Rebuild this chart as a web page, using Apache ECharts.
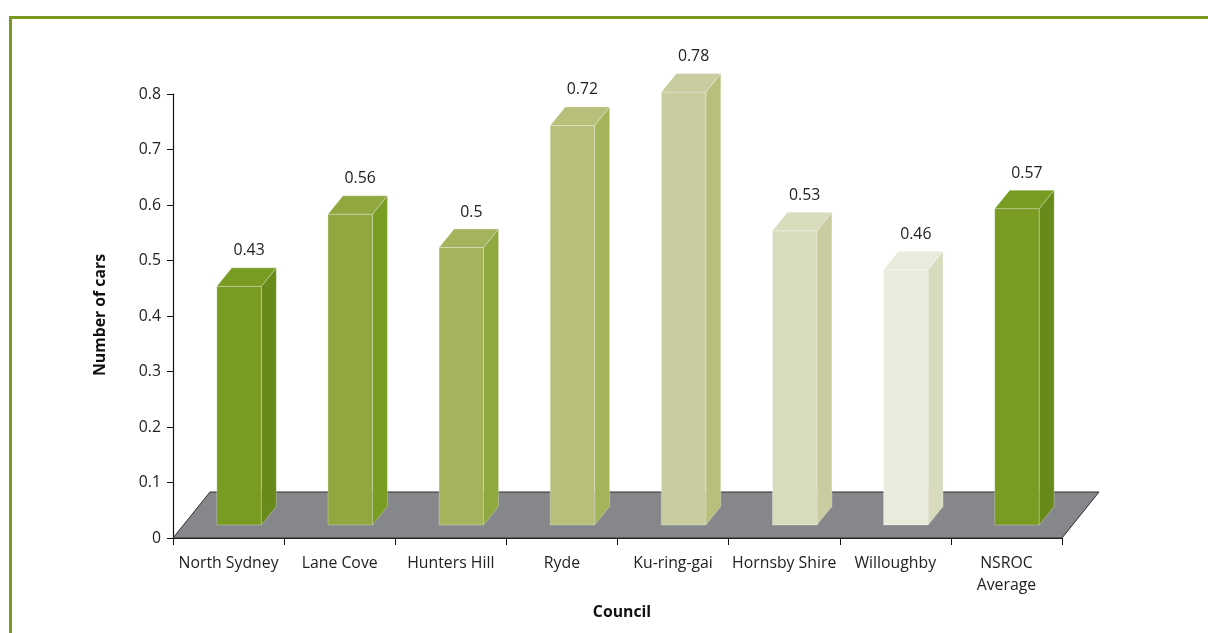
<!DOCTYPE html>
<html>
<head>
<meta charset="utf-8">
<title>Number of cars by council</title>
<script src="https://cdn.jsdelivr.net/npm/echarts@6/dist/echarts.min.js"></script>
<style>
  html, body { margin: 0; padding: 0; background: #ffffff; }
  #chart { width: 1208px; height: 633px; }
</style>
</head>
<body>
<div id="chart"></div>
<script>
// Councils along the horizontal axis
const categories = ['North Sydney', 'Lane Cove', 'Hunters Hill', 'Ryde', 'Ku-ring-gai', 'Hornsby Shire', 'Willoughby', 'NSROC\nAverage'];
// Number of cars per council
const cars = [0.43, 0.56, 0.5, 0.72, 0.78, 0.53, 0.46, 0.57];
// Value axis range and step
const yMin = 0, yMax = 0.8, yStep = 0.1;

// Face colours for each bar: [front/top, side]
const faceColors = [
  ['#789b21', '#688a1b'],
  ['#91a840', '#799c22'],
  ['#a4b45c', '#8fa83f'],
  ['#b7bf7b', '#a4b45b'],
  ['#c8cc9f', '#b8bf7c'],
  ['#d9dbbd', '#c8cca0'],
  ['#ebebdd', '#d9dbbf'],
  ['#789b21', '#688a1b']
];

const FONT = '"Open Sans", "Noto Sans", sans-serif';
const FONT_SIZE = 15.8;
// 3D projection offsets (pixels)
const FLOOR_DX = 37, FLOOR_DY = -46;   // full floor depth
const BAR_DX = 10.5, BAR_DY = -13;     // front plane of the bars
const DEPTH_DX = 15, DEPTH_DY = -18.5; // bar thickness

const chart = echarts.init(document.getElementById('chart'), null, { renderer: 'canvas' });

function renderFloor(params, api) {
  const cs = params.coordSys;
  const x0 = cs.x, x1 = cs.x + cs.width, yb = cs.y + cs.height;
  return {
    type: 'polygon',
    shape: { points: [[x0, yb], [x1, yb], [x1 + FLOOR_DX, yb + FLOOR_DY], [x0 + FLOOR_DX, yb + FLOOR_DY]] },
    style: { fill: '#86878b', stroke: '#2e2e2e', lineWidth: 1 },
    z2: 0
  };
}

function renderBar(params, api) {
  const i = api.value(0);
  const v = api.value(1);
  const base = api.coord([i, 0]);
  const top = api.coord([i, v]);
  const band = api.size([1, 0])[0];
  const w = band * 0.4;
  const xL = base[0] + BAR_DX - w / 2;
  const xR = xL + w;
  const yBot = base[1] + BAR_DY;
  const yTop = top[1] + BAR_DY;
  const c = faceColors[i];
  const edge = 'rgba(255,255,255,0.35)';
  return {
    type: 'group',
    children: [
      {
        type: 'polygon',
        shape: { points: [[xR, yTop], [xR + DEPTH_DX, yTop + DEPTH_DY], [xR + DEPTH_DX, yBot + DEPTH_DY], [xR, yBot]] },
        style: { fill: c[1], stroke: edge, lineWidth: 0.8 }
      },
      {
        type: 'rect',
        shape: { x: xL, y: yTop, width: w, height: yBot - yTop },
        style: { fill: c[0], stroke: edge, lineWidth: 0.8 }
      },
      {
        type: 'polygon',
        shape: { points: [[xL, yTop], [xR, yTop], [xR + DEPTH_DX, yTop + DEPTH_DY], [xL + DEPTH_DX, yTop + DEPTH_DY]] },
        style: { fill: c[0], stroke: edge, lineWidth: 0.8 }
      },
      {
        type: 'text',
        style: {
          text: String(v),
          x: (xL + xR) / 2 + 10,
          y: yTop + DEPTH_DY - 17,
          align: 'center',
          verticalAlign: 'middle',
          fill: '#222222',
          font: FONT_SIZE + 'px ' + FONT
        }
      }
    ]
  };
}

const option = {
  animation: false,
  backgroundColor: '#ffffff',
  grid: { left: 173, right: 146, top: 94, bottom: 95, containLabel: false },
  xAxis: {
    type: 'category',
    data: categories,
    boundaryGap: true,
    axisLine: { show: true, lineStyle: { color: '#111111', width: 1.2 } },
    axisTick: { show: true, alignWithLabel: false, interval: 0, length: 7, lineStyle: { color: '#111111' } },
    axisLabel: { interval: 0, margin: 14, color: '#222222', fontSize: FONT_SIZE, fontFamily: FONT, lineHeight: 22 },
    splitLine: { show: false }
  },
  yAxis: {
    type: 'value',
    min: yMin,
    max: yMax,
    interval: yStep,
    axisLine: { show: true, lineStyle: { color: '#111111', width: 1.2 } },
    axisTick: { show: true, length: 6, lineStyle: { color: '#111111' } },
    axisLabel: { margin: 12, color: '#222222', fontSize: FONT_SIZE, fontFamily: FONT },
    splitLine: { show: false }
  },
  graphic: [
    // green frame (top and left rules)
    { type: 'rect', shape: { x: 9, y: 16, width: 1199, height: 3 }, style: { fill: '#7a9b22' }, silent: true },
    { type: 'rect', shape: { x: 9, y: 16, width: 3, height: 617 }, style: { fill: '#7a9b22' }, silent: true },
    // axis titles
    {
      type: 'text', x: 100, y: 315, rotation: Math.PI / 2,
      style: { text: 'Number of cars', align: 'center', verticalAlign: 'middle', fill: '#111111', font: 'bold ' + FONT_SIZE + 'px ' + FONT }
    },
    {
      type: 'text', x: 622, y: 612,
      style: { text: 'Council', align: 'center', verticalAlign: 'middle', fill: '#111111', font: 'bold ' + FONT_SIZE + 'px ' + FONT }
    }
  ],
  series: [
    {
      type: 'custom',
      name: 'floor',
      renderItem: renderFloor,
      data: [[0, 0]],
      z: 1,
      silent: true
    },
    {
      type: 'custom',
      name: 'Number of cars',
      renderItem: renderBar,
      data: cars.map((v, i) => [i, v]),
      encode: { x: 0, y: 1 },
      z: 2
    }
  ]
};

chart.setOption(option);
</script>
</body>
</html>
